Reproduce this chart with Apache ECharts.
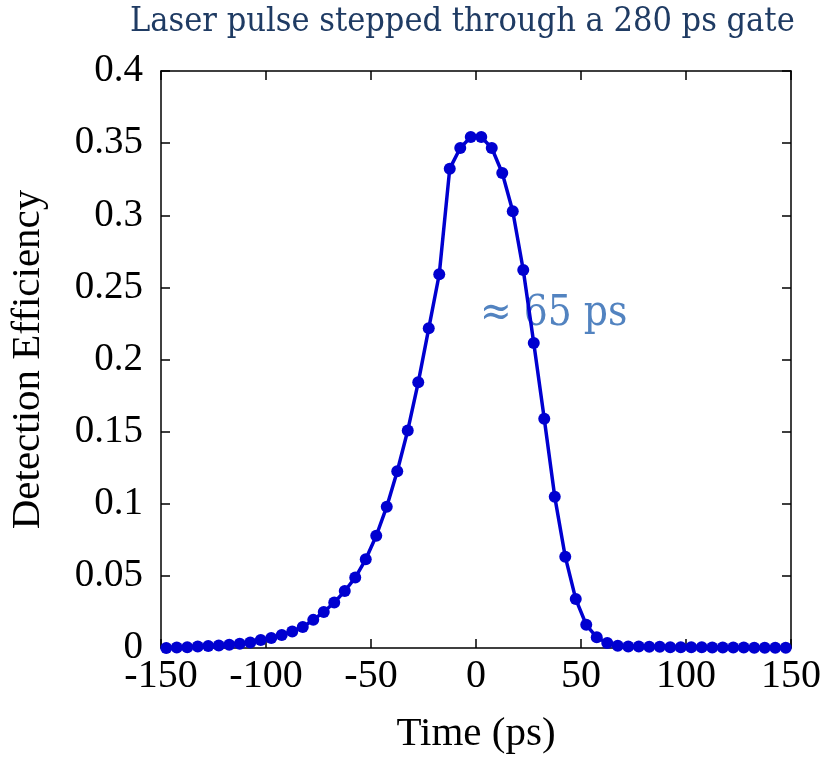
<!DOCTYPE html>
<html>
<head>
<meta charset="utf-8">
<script src="https://cdn.jsdelivr.net/npm/echarts@6/dist/echarts.min.js"></script>
<style>html,body{margin:0;padding:0;background:#fff}#c{width:827px;height:760px}</style>
</head>
<body>
<div id="c"></div>
<script>
var titleText = 'Laser pulse stepped through a 280 ps gate';
var annotationText = '\u2248 65 ps';
var xAxisName = 'Time (ps)';
var yAxisName = 'Detection Efficiency';
var xTicks = [-150, -100, -50, 0, 50, 100, 150];
var yTicks = [0, 0.05, 0.1, 0.15, 0.2, 0.25, 0.3, 0.35, 0.4];
var timePs = [
  -147.5,-142.5,-137.5,-132.5,-127.5,-122.5,-117.5,-112.5,-107.5,-102.5,
  -97.5,-92.5,-87.5,-82.5,-77.5,-72.5,-67.5,-62.5,-57.5,-52.5,
  -47.5,-42.5,-37.5,-32.5,-27.5,-22.5,-17.5,-12.5,-7.5,-2.5,
  2.5,7.5,12.5,17.5,22.5,27.5,32.5,37.5,42.5,47.5,
  52.5,57.5,62.5,67.5,72.5,77.5,82.5,87.5,92.5,97.5,
  102.5,107.5,112.5,117.5,122.5,127.5,132.5,137.5,142.5,147.5
];
var efficiency = [
  0, 0.0003, 0.0006, 0.001, 0.0014, 0.0018, 0.0023, 0.003, 0.0038, 0.0055,
  0.007, 0.009, 0.0115, 0.0145, 0.0195, 0.025, 0.0315, 0.0395, 0.0488, 0.0615,
  0.0778, 0.098, 0.1225, 0.1508, 0.1842, 0.2216, 0.2591, 0.3323, 0.3466, 0.3542,
  0.3542, 0.3466, 0.3293, 0.3028, 0.262, 0.2114, 0.1589, 0.1048, 0.0633, 0.0339,
  0.0161, 0.0074, 0.0035, 0.0016, 0.001, 0.001, 0.0008, 0.0008, 0.0006, 0.0006,
  0.0005, 0.0005, 0.0004, 0.0004, 0.0003, 0.0003, 0.0002, 0.0002, 0.0001, 0.0001
];

var serif = '"Liberation Serif", "Times New Roman", serif';
var titleFont = '"DejaVu Serif Condensed", "DejaVu Serif", serif';
var data = timePs.map(function (t, i) { return [t, efficiency[i]]; });

var chart = echarts.init(document.getElementById('c'), null, {renderer: 'canvas'});
var axisLine = {show: true, onZero: false, lineStyle: {color: '#000', width: 1.5}};
var tickStyle = {show: true, inside: true, length: 9, lineStyle: {color: '#000', width: 1.5}};
function fmtY(v) { return String(Math.round(v * 100) / 100); }
chart.setOption({
  animation: false,
  backgroundColor: '#fff',
  grid: {left: 158, right: 36, top: 71, bottom: 110, containLabel: false},
  xAxis: [{
    type: 'value', min: xTicks[0], max: xTicks[xTicks.length - 1], interval: 50,
    position: 'bottom',
    axisLine: axisLine, axisTick: tickStyle, splitLine: {show: false},
    axisLabel: {color: '#000', fontFamily: serif, fontSize: 40, margin: 8},
    name: xAxisName, nameLocation: 'middle', nameGap: 66,
    nameTextStyle: {color: '#000', fontFamily: serif, fontSize: 41}
  }, {
    type: 'value', min: xTicks[0], max: xTicks[xTicks.length - 1], interval: 50,
    position: 'top',
    axisLine: axisLine, axisTick: tickStyle, splitLine: {show: false},
    axisLabel: {show: false}
  }],
  yAxis: [{
    type: 'value', min: yTicks[0], max: yTicks[yTicks.length - 1], interval: 0.05,
    position: 'left',
    axisLine: axisLine, axisTick: tickStyle, splitLine: {show: false},
    axisLabel: {color: '#000', fontFamily: serif, fontSize: 39, margin: 18, formatter: fmtY},
    name: yAxisName, nameLocation: 'middle', nameGap: 112,
    nameTextStyle: {color: '#000', fontFamily: serif, fontSize: 41}
  }, {
    type: 'value', min: yTicks[0], max: yTicks[yTicks.length - 1], interval: 0.05,
    position: 'right',
    axisLine: axisLine, axisTick: tickStyle, splitLine: {show: false},
    axisLabel: {show: false}
  }],
  series: [{
    type: 'line', data: data,
    symbol: 'circle', symbolSize: 12,
    lineStyle: {color: '#0000d0', width: 3.5},
    itemStyle: {color: '#0000d0'},
    z: 3
  }],
  graphic: [{
    type: 'text', left: 130, top: 5,
    style: {text: titleText, fill: '#1f3b63', font: '34px ' + titleFont}
  }, {
    type: 'text', left: 480, top: 293,
    style: {text: annotationText, fill: '#5283c0', font: '42px ' + titleFont}
  }]
});
</script>
</body>
</html>
